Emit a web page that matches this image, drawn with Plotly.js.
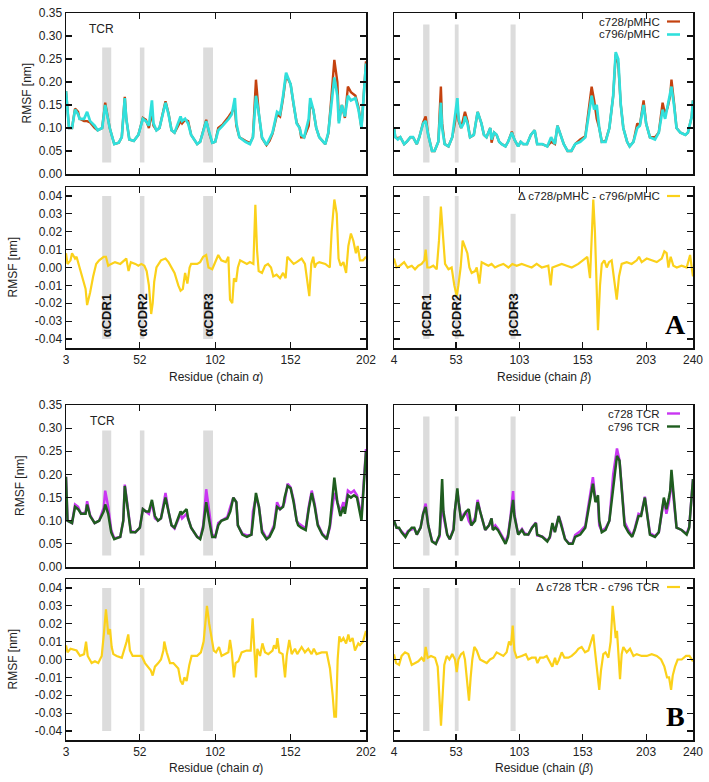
<!DOCTYPE html>
<html><head><meta charset="utf-8">
<script src="https://cdn.plot.ly/plotly-3.0.1.min.js"></script>
<style>html,body{margin:0;padding:0;background:#fff}#chart{width:709px;height:782px}</style>
</head><body><div id="chart"></div>
<script>
// ---------------- DATA ----------------
const xTicksAlpha = [3, 52, 102, 152, 202];
const xTicksBeta = [4, 53, 103, 153, 203, 240];
const rmsfTicks = [0, 0.05, 0.10, 0.15, 0.20, 0.25, 0.30, 0.35];
const rmsfTickText = ['0.00','0.05','0.10','0.15','0.20','0.25','0.30','0.35'];
const deltaTicks = [-0.04,-0.03,-0.02,-0.01,0,0.01,0.02,0.03,0.04];
const deltaTickText = ['-0.04','-0.03','-0.02','-0.01','0.00','0.01','0.02','0.03','0.04'];

const cdrAlpha = [[27,33],[52,55],[94,100.5]];
const cdrBeta = [[27,32],[52,55],[96,100]];
const cdrAlphaLabels = ['αCDR1','αCDR2','αCDR3'];
const cdrBetaLabels = ['βCDR1','βCDR2','βCDR3'];

// Panel A, chain alpha: RMSF
const resA_alpha = [3,5,7,9,11,12,15,17,19,22, 24,27,29,32,35,38,40,42,43,45, 48,51,54,56,58,60,61,63,65,69,
  71,73,75,79,80,82,84,86,90,92, 96,98,100,102,104,107,111,113,115,116, 118,122,125,127,129,131,133,136,138,140,
  143,145,147,149,152,154,156,158,159,161, 164,165,167,169,171,175,177,179,181,183, 184,186,188,190,192,195,197,199,202];
const c796_pMHC_alpha = [0.18,0.10,0.10,0.14,0.13,0.12,0.12,0.135,0.115,0.105, 0.095,0.10,0.15,0.10,0.065,0.068,0.08,0.165,0.12,0.075,
  0.072,0.085,0.12,0.115,0.105,0.16,0.11,0.095,0.10,0.155, 0.13,0.095,0.09,0.125,0.115,0.12,0.11,0.085,0.065,0.07,
  0.115,0.09,0.068,0.07,0.095,0.105,0.12,0.13,0.165,0.11, 0.08,0.07,0.065,0.08,0.17,0.13,0.08,0.063,0.075,0.09,
  0.135,0.13,0.17,0.22,0.195,0.15,0.11,0.10,0.085,0.08, 0.12,0.165,0.14,0.10,0.08,0.065,0.09,0.15,0.21,0.17,
  0.11,0.15,0.125,0.17,0.16,0.165,0.14,0.10,0.24];
const c728_pMHC_alpha = [0.18,0.10,0.10,0.142,0.135,0.12,0.115,0.115,0.112,0.10, 0.095,0.10,0.155,0.10,0.065,0.068,0.08,0.168,0.12,0.075,
  0.072,0.085,0.122,0.118,0.10,0.135,0.105,0.095,0.10,0.158, 0.132,0.095,0.09,0.115,0.11,0.118,0.115,0.085,0.065,0.07,
  0.118,0.088,0.068,0.07,0.10,0.108,0.125,0.135,0.145,0.105, 0.08,0.072,0.067,0.08,0.205,0.128,0.078,0.063,0.072,0.088,
  0.13,0.125,0.165,0.215,0.195,0.15,0.112,0.10,0.08,0.08, 0.105,0.155,0.14,0.10,0.08,0.065,0.088,0.165,0.248,0.20,
  0.115,0.15,0.122,0.19,0.178,0.17,0.145,0.10,0.245];

// Panel A, chain beta: RMSF
const resA_beta = [4,5,7,9,12,14,17,19,22,24, 27,29,31,34,36,39,41,42,44,47, 50,52,54,55,57,59,60,62,64,67,
  70,73,75,77,80,81,83,85,87,89, 92,94,97,99,102,104,106,109,112,115, 117,121,125,128,131,133,135,138,141,144,
  147,151,155,157,160,162,164,166,168,171, 174,177,179,181,183,185,188,190,193,196, 198,201,203,206,210,213,216,218,220,222,
  223,225,227,230,234,236,239,240];
const c796_pMHC_beta = [0.10,0.08,0.075,0.08,0.065,0.07,0.08,0.08,0.065,0.08, 0.11,0.115,0.085,0.05,0.05,0.07,0.155,0.10,0.065,0.06,
  0.08,0.12,0.165,0.12,0.10,0.11,0.125,0.11,0.08,0.085, 0.135,0.11,0.085,0.08,0.10,0.075,0.09,0.085,0.07,0.065,
  0.06,0.07,0.09,0.075,0.06,0.07,0.065,0.065,0.085,0.095, 0.065,0.065,0.06,0.08,0.065,0.105,0.09,0.065,0.05,0.05,
  0.065,0.07,0.08,0.12,0.17,0.14,0.15,0.10,0.07,0.07, 0.10,0.17,0.265,0.25,0.15,0.10,0.07,0.06,0.07,0.10,
  0.105,0.15,0.11,0.08,0.075,0.09,0.14,0.12,0.145,0.17, 0.19,0.15,0.10,0.09,0.085,0.09,0.125,0.16];
const c728_pMHC_beta = [0.10,0.08,0.078,0.08,0.065,0.07,0.08,0.08,0.065,0.08, 0.112,0.125,0.085,0.05,0.05,0.07,0.19,0.11,0.065,0.06,
  0.08,0.11,0.15,0.115,0.10,0.12,0.135,0.115,0.08,0.085, 0.135,0.11,0.085,0.08,0.10,0.068,0.09,0.085,0.07,0.065,
  0.06,0.07,0.092,0.075,0.06,0.07,0.065,0.065,0.085,0.095, 0.065,0.065,0.06,0.07,0.065,0.105,0.09,0.065,0.05,0.05,
  0.065,0.075,0.082,0.125,0.19,0.16,0.12,0.10,0.07,0.072, 0.10,0.17,0.26,0.24,0.15,0.10,0.07,0.06,0.07,0.11,
  0.105,0.16,0.11,0.08,0.08,0.09,0.155,0.13,0.145,0.17, 0.205,0.155,0.10,0.09,0.085,0.09,0.125,0.16];

// Panel A, delta (c728/pMHC - c796/pMHC)
const resDA_alpha = [3,4,6,7,9,10,12,14,16,17, 19,21,23,25,28,29.5,31,33,35.5,39, 41.5,43,44.5,46,49,51,53,55,56.5,58,
  59.5,60.5,61.5,63,66,69,71,73,75,77.5, 79,80.5,82,83.5,85,86,90,92,94,96, 97.5,100,102,104,106,109,110.7,111.8,113.3,114.4,
  115.8,117,118.5,120.5,123,125,127.3,128.6,129.7,130.8, 133,135,137,139,140.5,142.7,145,147,148.7,149.8,
  151.6,154,156,159.3,161.5,164.4,165.7,167,168,169, 171,175,178,179.2,181,182.6,183.8,185.2,187,188.8,
  190.3,192,193.6,195.3,196.5,198,200,202];
const dA_alpha = [0.008,0.002,0.004,0.008,0.005,0.006,0.0,-0.006,-0.012,-0.021, -0.014,-0.005,0.002,0.004,0.006,0.006,0.001,0.002,0.003,0.002,
  0.004,0.005,-0.002,0.003,0.002,0.001,0.002,0.001,-0.002,-0.01, -0.026,-0.02,-0.008,0.0,0.004,0.005,0.003,0.0,-0.003,-0.01,
  -0.013,-0.012,-0.003,-0.009,0.0,0.002,0.002,0.003,0.006,0.007, 0.0,-0.001,0.003,0.007,0.004,0.003,0.006,-0.018,-0.02,-0.006,
  -0.008,0.0,0.004,0.003,0.002,0.003,0.002,0.035,0.01,-0.002, -0.003,0.001,0.002,0.0,-0.005,-0.004,-0.006,-0.003,-0.006,0.006,
  0.004,0.002,0.003,0.005,0.002,-0.016,0.002,0.006,0.0,0.002, 0.003,0.002,0.0,0.02,0.038,0.03,0.005,0.001,0.003,-0.003,
  0.012,0.019,0.015,0.008,0.012,0.004,0.004,0.006];
const resDA_beta = [4,6,8.7,12,14.8,18,20.6,23.2,25.8,28, 29,30.3,32.4,35,37.7,39.5,41,42.7,44.3,47,
  49.5,51.6,53.5,54.8,56.6,58.2,60,61.9,63.5,65.3, 68,69.3,71.4,73.2,75.8,78.5,81,83.7,86.4,90.3,
  94.3,97.4,100.8,104.8,108.7,112.7,116.6,120.6,125.8,127.7, 129,132.4,136.4,140.3,144.3,149.5,153.5,156.6,158.7,159.5,
  161.3,162.6,164,165,166.6,168,170,171.9,173.7,175.8, 178,179.8,181.6,183.7,187.7,191.6,195.6,197.4,199.5,203.5,
  207.4,211.4,215.3,217.4,219.2,220.6,222.4,224.5,227.2,231, 235,237.7,239,240];
const dA_beta = [0.005,0.0,0.001,0.003,0.0,0.001,-0.001,0.001,0.002,0.004, 0.01,0.0,0.0,0.001,-0.001,0.015,0.034,0.015,0.002,-0.001,
  0.0,-0.01,-0.016,-0.01,0.0,0.015,0.012,0.008,0.0,-0.003, -0.002,0.0,-0.009,0.003,0.002,0.001,0.002,0.0,0.001,0.002,
  0.0,0.002,0.001,0.002,0.001,0.0,0.002,0.0,0.001,-0.01, 0.0,0.001,0.002,0.001,0.0,0.002,0.004,0.006,-0.006,0.01,
  0.038,0.02,-0.01,-0.035,-0.01,0.002,0.004,0.0,0.003,0.004, -0.008,-0.018,-0.005,0.002,0.003,0.002,0.004,0.006,0.003,0.005,
  0.004,0.003,0.005,0.009,0.008,0.0,0.006,0.001,0.0,0.001, 0.0,0.007,0.0,-0.005];

// Panel B, chain alpha: RMSF
const resB_alpha = [3,4,7,9,11,13,16,17,19,22, 25,28,29,31,33,35,39,41,42,44, 46,49,52,54,56,58,60,62,64,66,
  69,71,73,75,79,80,83,84,86,90, 92,94,96,98,100,102,104,106,110,112, 114,116,117,120,123,126,127,129,131,133,
  136,138,141,143,145,147,148,150,152,154, 156,157,159,162,164,166,168,170,173,176, 178,180,181,183,185,187,188,190,192,194,
  196,199,202];
const c796_TCR_alpha = [0.195,0.10,0.095,0.13,0.125,0.115,0.115,0.135,0.11,0.095, 0.10,0.12,0.135,0.115,0.075,0.06,0.065,0.10,0.175,0.12,
  0.075,0.075,0.085,0.125,0.12,0.12,0.145,0.11,0.10,0.105, 0.15,0.12,0.09,0.085,0.12,0.115,0.125,0.105,0.085,0.065,
  0.06,0.085,0.14,0.10,0.065,0.065,0.09,0.10,0.105,0.12, 0.15,0.14,0.09,0.07,0.065,0.07,0.10,0.16,0.13,0.075,
  0.06,0.065,0.085,0.13,0.125,0.13,0.15,0.175,0.17,0.14, 0.10,0.09,0.085,0.08,0.125,0.16,0.13,0.09,0.07,0.06,
  0.09,0.15,0.193,0.14,0.11,0.13,0.115,0.155,0.15,0.155, 0.15,0.10,0.25];
const c728_TCR_alpha = [0.195,0.10,0.095,0.135,0.13,0.115,0.118,0.142,0.112,0.095, 0.10,0.128,0.165,0.13,0.08,0.062,0.065,0.10,0.178,0.125,
  0.078,0.075,0.085,0.125,0.12,0.115,0.14,0.105,0.10,0.105, 0.16,0.12,0.09,0.083,0.115,0.105,0.115,0.105,0.085,0.065,
  0.062,0.09,0.168,0.12,0.07,0.065,0.095,0.10,0.108,0.13, 0.15,0.14,0.09,0.072,0.068,0.07,0.12,0.15,0.13,0.08,
  0.062,0.068,0.09,0.14,0.125,0.132,0.14,0.18,0.172,0.145, 0.10,0.095,0.09,0.083,0.13,0.165,0.135,0.093,0.072,0.062,
  0.085,0.13,0.16,0.14,0.12,0.14,0.125,0.165,0.16,0.165, 0.155,0.11,0.255];

// Panel B, chain beta: RMSF
const resB_beta = [4,6,8,10,13,15,18,20,22,25, 27,29,31,34,37,40,42,43,46,48, 51,52,54,55,57,59,61,63,65,68,
  70,72,74,76,79,81,82,84,86,89, 92,94,96,98,99,102,105,107,110,113, 116,117,121,125,127,129,131,134,136,139,
  142,145,147,151,155,157,161,163,165,166, 168,171,174,177,180,182,184,186,189,192, 194,197,199,202,204,206,210,213,217,219,
  221,222,223,225,227,231,235,237,239,240];
const c796_TCR_beta = [0.10,0.085,0.085,0.075,0.065,0.075,0.085,0.085,0.07,0.085, 0.115,0.13,0.09,0.055,0.05,0.07,0.19,0.12,0.07,0.06,
  0.08,0.12,0.17,0.14,0.10,0.11,0.12,0.125,0.09,0.10, 0.14,0.12,0.10,0.08,0.09,0.105,0.08,0.085,0.08,0.065,
  0.05,0.065,0.10,0.145,0.11,0.07,0.08,0.07,0.07,0.085, 0.095,0.07,0.065,0.055,0.065,0.095,0.075,0.11,0.09,0.06,
  0.05,0.05,0.065,0.07,0.085,0.12,0.18,0.14,0.155,0.10, 0.075,0.08,0.10,0.17,0.24,0.23,0.15,0.09,0.075,0.065,
  0.08,0.11,0.11,0.15,0.11,0.07,0.065,0.075,0.15,0.125, 0.15,0.165,0.21,0.14,0.085,0.08,0.07,0.085,0.15,0.19];
const c728_TCR_beta = [0.10,0.085,0.083,0.077,0.068,0.078,0.082,0.083,0.07,0.085, 0.115,0.137,0.09,0.057,0.05,0.066,0.155,0.11,0.07,0.06,
  0.083,0.12,0.163,0.14,0.103,0.114,0.12,0.10,0.09,0.107, 0.145,0.12,0.10,0.08,0.09,0.105,0.082,0.09,0.083,0.067,
  0.054,0.07,0.11,0.164,0.115,0.071,0.082,0.073,0.07,0.086, 0.096,0.068,0.066,0.057,0.063,0.091,0.076,0.11,0.094,0.061,
  0.051,0.052,0.069,0.077,0.089,0.125,0.194,0.145,0.14,0.09, 0.078,0.084,0.10,0.20,0.256,0.23,0.153,0.097,0.08,0.067,
  0.083,0.115,0.112,0.152,0.112,0.073,0.067,0.075,0.146,0.115, 0.14,0.16,0.193,0.135,0.085,0.08,0.072,0.087,0.15,0.19];

// Panel B, delta (c728 TCR - c796 TCR)
const resDB_alpha = [3,4,6,10,12.3,15,16.3,17.4,20,22.2, 24.4,26.7,28.2,29.5,30.4,31,32.2,33.3,34.4,36.6,
  40,41.5,43.2,44.3,45.4,47.2,49.9,53.2,55.4,57.6, 59.2,60.5,62,64.2,66,67.6,68.2,69.8,72,74.2,
  77.5,79,80.4,81.5,83,84.8,86.3,90,92.5,94.3, 95.4,96.5,98,99.3,101,102.5,104.5,106.2,109,110.7,
  111.8,113,114.4,115.5,117.3,119.5,122.8,125.5,126.8,127.9, 129,129.9,131.7,133.3,135,137.2,140,141,142.3,143.2,
  144.5,146.7,148.3,149.4,151.1,152.7,154.9,156.4,159.3,161.5, 163.7,165.9,167.4,169.2,172.6,175.9,178.1,179.9,181,182.1,
  183.2,184.3,185.4,187,188.8,190.3,191.4,193.1,194.7,196.9, 198,200,202];
const dB_alpha = [0.008,0.004,0.006,0.005,0.002,0.003,0.01,0.002,-0.002,-0.001, -0.002,0.002,0.015,0.028,0.02,0.014,0.017,0.007,0.003,0.002,
  0.001,0.005,0.01,0.014,0.005,0.002,0.002,0.002,-0.002,-0.004, -0.006,-0.009,-0.004,-0.002,0.0,0.005,0.01,0.004,-0.002,-0.002,
  -0.005,-0.012,-0.014,-0.01,-0.012,-0.003,0.002,0.002,0.004,0.01, 0.022,0.03,0.02,0.014,0.005,0.004,0.007,0.002,0.003,0.004,
  0.011,0.004,-0.01,-0.002,-0.001,0.004,0.005,0.005,0.023,0.008, -0.01,0.006,0.002,0.009,0.004,0.003,0.005,0.008,0.006,0.012,
  0.004,0.003,-0.01,0.002,0.011,0.003,0.006,0.003,0.007,0.004, 0.006,0.003,0.006,0.003,0.004,0.004,-0.005,-0.02,-0.032,-0.032,
  0.0,0.013,0.01,0.012,0.009,0.014,0.01,0.012,0.005,0.009, 0.008,0.01,0.016];
const resDB_beta = [4,5.6,8,10,12.7,15.3,18,20.6,23.2,25.8, 27.7,29,30.6,33.2,36.4,38.5,39.8,41.1,42.4,43.7,
  45.6,47.7,50,52.2,53.5,54.8,56.9,58.7,60,61.6, 63.2,64.5,65.8,67.4,69.3,71.9,74.5,77.2,79.8,82.4,
  85,87.7,90.3,92.9,94.8,96.4,97.7,99,100.8,104.8, 108,110,112.7,115.8,117.2,119.3,121.9,124.5,127.2,129,
  131.1,132.4,134.3,136.4,138.5,141.6,144.3,147.4,149.5,152.1, 154.8,157.4,160,161.3,162.6,164.5,166,167.4,169.2,171,
  173.2,175,176.6,177.7,179,180,181.1,182.4,183.7,185, 187.7,190.3,193,195.6,199.5,203.5,207.4,211.4,214.8,217.4,
  219.5,221.1,222.7,224,225.8,227.9,231.1,234.5,237.2,239, 240];
const dB_beta = [0.003,-0.002,-0.003,0.002,0.004,0.003,-0.003,-0.002,-0.001,0.001, -0.001,0.007,0.001,0.002,0.001,-0.004,-0.02,-0.037,-0.02,-0.003,
  0.002,0.0,0.003,0.0,-0.007,0.0,0.003,0.004,0.0,-0.01, -0.023,-0.01,0.0,0.007,0.005,0.0,-0.001,-0.002,0.0,0.001,
  0.004,0.003,0.002,0.004,0.01,0.008,0.019,0.005,0.001,0.002, 0.003,0.0,0.001,0.001,-0.002,0.001,0.001,0.002,-0.002,-0.004,
  0.001,-0.003,0.0,0.004,0.001,0.001,0.002,0.004,0.006,0.007, 0.004,0.005,0.011,0.014,0.005,-0.008,-0.017,-0.006,0.003,0.004,
  0.001,0.01,0.03,0.022,0.012,0.016,0.005,-0.011,0.003,0.007, 0.004,0.006,0.002,0.003,0.002,0.002,0.003,0.002,0.0,-0.004,
  -0.01,-0.01,-0.017,-0.009,-0.004,0.0,0.0,0.002,0.002,0.0, -0.001];

// ---------------- STYLE / LAYOUT ----------------
const W = 709, H = 782;
const FONT = 'Liberation Sans, Arial, Helvetica, sans-serif';
const SERIF = 'Liberation Serif, Times New Roman, serif';
const TXT = '#222';
const COL = {orange:'#c4420f', cyan:'#30e0dc', gold:'#fbd11a', magenta:'#c936f2', green:'#1f5d1f', band:'#dcdcdc'};
const px = x => x / W, py = y => 1 - y / H;
const cols = [[66,366],[394,693]];
const rows = [[13,174],[187,348],[405,567],[579,740]];
const sfx = i => (i === 1 ? '' : String(i));

const layout = {
  width: W, height: H, margin:{l:0,r:0,t:0,b:0},
  paper_bgcolor:'#fff', plot_bgcolor:'#fff', showlegend:false,
  font:{family:FONT, size:12, color:TXT},
  shapes:[], annotations:[]
};
const axisStyle = {
  showline:true, linecolor:'#111', linewidth:1.5, mirror:'ticks',
  ticks:'inside', ticklen:6, tickwidth:1.2, tickcolor:'#111',
  showgrid:false, zeroline:false, fixedrange:true,
  tickfont:{family:FONT, size:12, color:TXT}
};
for (let r = 0; r < 4; r++) {
  for (let c = 0; c < 2; c++) {
    const i = r*2 + c + 1, s = sfx(i);
    const xt = c === 0 ? xTicksAlpha : xTicksBeta;
    layout['xaxis'+s] = Object.assign({}, axisStyle, {
      domain:[px(cols[c][0]), px(cols[c][1])],
      range: c === 0 ? [3,202] : [4,240],
      tickvals: xt, ticktext: xt.map(String),
      showticklabels: r % 2 === 1, anchor:'y'+s
    });
    const isD = r % 2 === 1;
    layout['yaxis'+s] = Object.assign({}, axisStyle, {
      domain:[py(rows[r][1]), py(rows[r][0])],
      range: isD ? [-0.045,0.045] : [0,0.35],
      tickvals: isD ? deltaTicks : rmsfTicks,
      ticktext: isD ? deltaTickText : rmsfTickText,
      showticklabels: c === 0, anchor:'x'+s
    });
    // CDR bands
    const cdr = c === 0 ? cdrAlpha : cdrBeta;
    cdr.forEach((b, k) => {
      let y0, y1;
      if (r === 0) { y0 = 0.025; y1 = c === 0 ? 0.275 : 0.325; }
      else if (r === 2) { y0 = 0.025; y1 = c === 0 ? 0.295 : 0.325; }
      else { y0 = -0.04; y1 = (r === 1 && c === 1 && k === 2) ? 0.03 : 0.04; }
      layout.shapes.push({type:'rect', xref:'x'+s, yref:'y'+s, x0:b[0], x1:b[1], y0:y0, y1:y1,
        fillcolor:COL.band, line:{width:0}, layer:'below'});
    });
    // CDR labels (panel A delta only)
    if (r === 1) {
      const labels = c === 0 ? cdrAlphaLabels : cdrBetaLabels;
      cdr.forEach((b, k) => {
        layout.annotations.push({xref:'x'+s, yref:'y'+s, x:(b[0]+b[1])/2, y:-0.04,
          text:'<b>'+labels[k]+'</b>', textangle:-90, showarrow:false,
          xanchor:'center', yanchor:'bottom', font:{family:FONT, size:13, color:'#111'}});
      });
    }
  }
}

// Axis titles
const yTitleX = [27, 12, 20, 12];
rows.forEach((rw, r) => {
  layout.annotations.push({xref:'paper', yref:'paper', x:px(yTitleX[r]), y:py((rw[0]+rw[1])/2),
    text:'RMSF [nm]', textangle:-90, showarrow:false, xanchor:'center', yanchor:'middle',
    font:{family:FONT, size:12, color:TXT}});
});
const xTitles = [
  ['Residue (chain <i>α</i>)', 'Residue (chain <i>β</i>)', 377],
  ['Residue (chain <i>α</i>)', 'Residue (chain (<i>β</i>)', 768]
];
xTitles.forEach(t => {
  [0,1].forEach(c => {
    layout.annotations.push({xref:'paper', yref:'paper', x:px((cols[c][0]+cols[c][1])/2), y:py(t[2]),
      text:t[c], showarrow:false, xanchor:'center', yanchor:'middle', font:{family:FONT, size:12, color:TXT}});
  });
});

// TCR labels
[[87,29],[88,421]].forEach(p => layout.annotations.push({xref:'paper', yref:'paper', x:px(p[0]), y:py(p[1]),
  text:'TCR', showarrow:false, xanchor:'left', yanchor:'middle', font:{family:FONT, size:12, color:TXT}}));

// Panel letters
[['A',675,324],['B',675,716]].forEach(p => layout.annotations.push({xref:'paper', yref:'paper', x:px(p[1]), y:py(p[2]),
  text:'<b>'+p[0]+'</b>', showarrow:false, xanchor:'center', yanchor:'middle', font:{family:SERIF, size:28, color:'#000'}}));

// Key entries (text right-aligned, sample line on the right)
const keys = [
  ['c728/pMHC', COL.orange, 21.5, 2.2], ['c796/pMHC', COL.cyan, 34.5, 2.6],
  ['Δ c728/pMHC - c796/pMHC', COL.gold, 196, 2.2],
  ['c728 TCR', COL.magenta, 413.5, 2.4], ['c796 TCR', COL.green, 426.5, 2.4],
  ['Δ c728 TCR - c796 TCR', COL.gold, 587, 2.2]
];
keys.forEach(k => {
  layout.annotations.push({xref:'paper', yref:'paper', x:px(661), y:py(k[2]), text:k[0], showarrow:false,
    xanchor:'right', yanchor:'middle', borderpad:0, font:{family:FONT, size:11.5, color:TXT}});
  layout.shapes.push({type:'line', xref:'paper', yref:'paper', x0:px(667), x1:px(680), y0:py(k[2]), y1:py(k[2]),
    line:{color:k[1], width:k[3]}});
});

// ---------------- TRACES ----------------
const ln = (x, y, ax, color, w, name) => ({type:'scatter', mode:'lines', x:x, y:y, name:name,
  xaxis:'x'+ax, yaxis:'y'+ax, line:{color:color, width:w}, hoverinfo:'x+y'});
const traces = [
  ln(resA_alpha, c728_pMHC_alpha, '', COL.orange, 2.4, 'c728/pMHC'),
  ln(resA_alpha, c796_pMHC_alpha, '', COL.cyan, 2.7, 'c796/pMHC'),
  ln(resA_beta, c728_pMHC_beta, '2', COL.orange, 2.4, 'c728/pMHC'),
  ln(resA_beta, c796_pMHC_beta, '2', COL.cyan, 2.7, 'c796/pMHC'),
  ln(resDA_alpha, dA_alpha, '3', COL.gold, 2.2, 'Δ c728/pMHC - c796/pMHC'),
  ln(resDA_beta, dA_beta, '4', COL.gold, 2.2, 'Δ c728/pMHC - c796/pMHC'),
  ln(resB_alpha, c728_TCR_alpha, '5', COL.magenta, 2.5, 'c728 TCR'),
  ln(resB_alpha, c796_TCR_alpha, '5', COL.green, 2.5, 'c796 TCR'),
  ln(resB_beta, c728_TCR_beta, '6', COL.magenta, 2.5, 'c728 TCR'),
  ln(resB_beta, c796_TCR_beta, '6', COL.green, 2.5, 'c796 TCR'),
  ln(resDB_alpha, dB_alpha, '7', COL.gold, 2.2, 'Δ c728 TCR - c796 TCR'),
  ln(resDB_beta, dB_beta, '8', COL.gold, 2.2, 'Δ c728 TCR - c796 TCR')
];

Plotly.newPlot('chart', traces, layout, {displayModeBar:false, staticPlot:true});
</script></body></html>
